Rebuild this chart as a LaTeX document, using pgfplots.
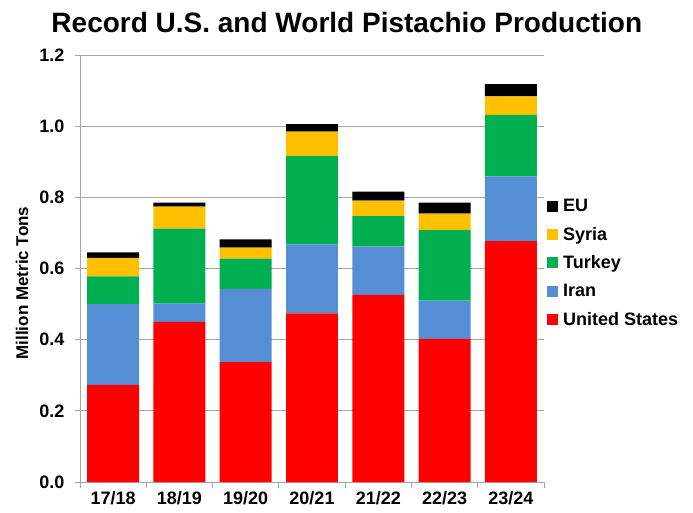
\documentclass[border=0pt]{standalone}
\usepackage{fontspec}
\setmainfont{Liberation Sans}
\usepackage{pgfplots}
\pgfplotsset{compat=1.18}
\definecolor{cUS}{HTML}{FF0000}
\definecolor{cIran}{HTML}{558ED5}
\definecolor{cTurkey}{HTML}{00B050}
\definecolor{cSyria}{HTML}{FFC000}
\definecolor{cEU}{HTML}{000000}
\definecolor{gridgray}{HTML}{A6A6A6}
\begin{document}
\begin{tikzpicture}
\useasboundingbox (-80pt,-30pt) rectangle (613pt,482pt);
\begin{axis}[
  scale only axis, width=464pt, height=427pt,
  at={(0pt,0pt)}, anchor=south west,
  ybar stacked, bar width=0.784,
  xmin=-0.5, xmax=6.5, ymin=0, ymax=1.2,
  xtick={0,1,2,3,4,5,6},
  xticklabels={17/18,18/19,19/20,20/21,21/22,22/23,23/24},
  minor xtick={-0.5,0.5,1.5,2.5,3.5,4.5,5.5,6.5},
  ytick={0,0.2,0.4,0.6,0.8,1.0,1.2},
  major x tick style={draw=none},
  minor x tick style={draw=gridgray, line width=0.8pt},
  major y tick style={draw=gridgray, line width=0.8pt},
  major tick length=5pt, minor tick length=6pt,
  tick align=outside,
  axis x line*=bottom, axis y line*=left,
  axis line style={draw=gridgray, line width=0.8pt, -},
  ymajorgrids, major grid style={draw=gridgray, line width=0.8pt},
  /pgf/number format/assume math mode=true,
  yticklabel style={/pgf/number format/.cd, fixed, fixed zerofill, precision=1, /tikz/.cd, xshift=-7pt},
  xticklabel style={yshift=-1pt},
  ticklabel style={font=\bfseries\fontsize{18}{21}\selectfont},
  title={Record U.S. and World Pistachio Production},
  title style={font=\bfseries\fontsize{28}{32}\selectfont, at={(axis description cs:0.575,1)}, anchor=center, yshift=27pt},
  ylabel={Million Metric Tons},
  ylabel style={font=\bfseries\fontsize{17}{20}\selectfont, at={(axis description cs:-0.125,0.466)}, anchor=center},
  reverse legend,
  legend cell align=left,
  legend image code/.code={\fill[#1] (1pt,-5.5pt) rectangle (12pt,5.5pt);},
  legend style={at={(axis description cs:1.0,0.672)}, anchor=north west, draw=none, fill=none,
    font=\bfseries\fontsize{18}{21}\selectfont, row sep=10pt,
    /tikz/every odd column/.append style={column sep=3pt}},
]
\addplot[fill=cUS, draw=none] coordinates {(0,0.273) (1,0.450) (2,0.337) (3,0.474) (4,0.526) (5,0.402) (6,0.677)};
\addlegendentry{United States}
\addplot[fill=cIran, draw=none] coordinates {(0,0.227) (1,0.051) (2,0.206) (3,0.194) (4,0.136) (5,0.108) (6,0.182)};
\addlegendentry{Iran}
\addplot[fill=cTurkey, draw=none] coordinates {(0,0.078) (1,0.211) (2,0.085) (3,0.248) (4,0.085) (5,0.198) (6,0.173)};
\addlegendentry{Turkey}
\addplot[fill=cSyria, draw=none] coordinates {(0,0.052) (1,0.062) (2,0.031) (3,0.069) (4,0.044) (5,0.046) (6,0.052)};
\addlegendentry{Syria}
\addplot[fill=cEU, draw=none] coordinates {(0,0.015) (1,0.011) (2,0.023) (3,0.021) (4,0.025) (5,0.031) (6,0.034)};
\addlegendentry{EU}
\end{axis}
\end{tikzpicture}
\end{document}
